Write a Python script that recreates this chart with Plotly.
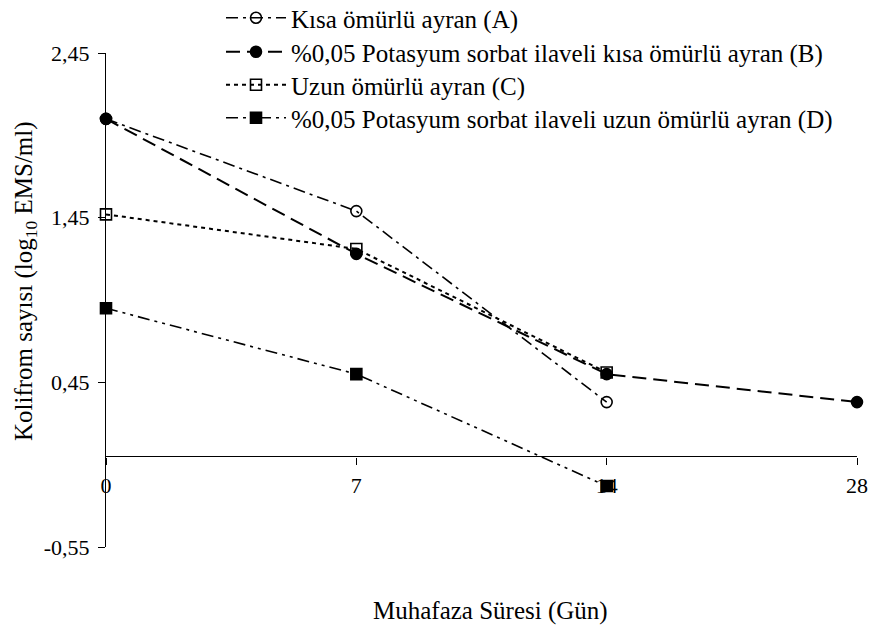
import plotly.graph_objects as go

days = ["0", "7", "14", "28"]
series_names = [
    "Kısa ömürlü ayran (A)",
    "%0,05 Potasyum sorbat ilaveli kısa ömürlü ayran (B)",
    "Uzun ömürlü ayran (C)",
    "%0,05 Potasyum sorbat ilaveli uzun ömürlü ayran (D)",
]
vals_A = [2.05, 1.49, 0.33, None]
vals_B = [2.05, 1.23, 0.50, 0.33]
vals_C = [1.47, 1.26, 0.51, None]
vals_D = [0.90, 0.50, -0.18, None]
y_ticks = [-0.55, 0.45, 1.45, 2.45]
y_tick_labels = [f"{v:.2f}".replace(".", ",") for v in y_ticks]
y_min, y_max = -0.55, 2.45

FONT = "Liberation Serif, Times New Roman, serif"
FS = 22
FS_LEG = 25
FS_TITLE = 25

# plot area in page pixels: x 106..857, y 53..547 (body margin removed)
PL, PR, PT, PB = 106, 857, 53, 547
W, H = 872, 629
PW, PH = PR - PL, PB - PT

styles = [
    dict(dash="12px,5px,3px,5px", symbol="circle-open", width=1.6),
    dict(dash="14px,7px", symbol="circle", width=2),
    dict(dash="4px,4px", symbol="square-open", width=2),
    dict(dash="12px,5px,3px,5px,3px,5px", symbol="square", width=1.6),
]
all_vals = [vals_A, vals_B, vals_C, vals_D]
legend_ids = ["legend", "legend2", "legend3", "legend4"]
legend_rows = [18, 52, 85, 118]


def px_x(x):
    return (x - PL) / PW


def px_y(y):
    return (PB - y) / PH


fig = go.Figure()
for i, (name, vals, st) in enumerate(zip(series_names, all_vals, styles)):
    xs = [d for d, v in zip(days, vals) if v is not None]
    ys = [v for v in vals if v is not None]
    fig.add_trace(go.Scatter(
        x=xs, y=ys, name=name, mode="lines+markers",
        line=dict(color="black", width=st["width"], dash=st["dash"]),
        marker=dict(symbol=st["symbol"], size=11, color="black",
                    line=dict(color="black", width=1.6)),
        cliponaxis=False, legend=legend_ids[i],
    ))

zero_pos = (0 - y_min) / (y_max - y_min)

legend_layout = {}
for lid, row in zip(legend_ids, legend_rows):
    legend_layout[lid] = dict(
        x=px_x(221), y=px_y(row), xanchor="left", yanchor="middle",
        bgcolor="rgba(0,0,0,0)", font=dict(family=FONT, size=FS_LEG),
        itemwidth=60)

fig.update_layout(
    width=W, height=H,
    margin=dict(l=PL, r=W - PR, t=PT, b=H - PB, autoexpand=False),
    paper_bgcolor="white", plot_bgcolor="white",
    font=dict(family=FONT, size=FS, color="black"),
    showlegend=True,
    **legend_layout,
    xaxis=dict(type="category", categoryorder="array", categoryarray=days,
               range=[0, 3], anchor="free", position=zero_pos,
               showline=True, linecolor="black", linewidth=1.2,
               ticks="outside", ticklen=7, tickcolor="black",
               showgrid=False, zeroline=False, ticklabelstandoff=2,
               layer="below traces", automargin=False),
    yaxis=dict(range=[y_min, y_max], tickvals=y_ticks, ticktext=y_tick_labels,
               showline=True, linecolor="black", linewidth=1.2,
               ticks="outside", ticklen=7, tickcolor="black",
               showgrid=False, zeroline=False, ticklabelstandoff=4,
               automargin=False),
    annotations=[
        dict(text="Kolifrom sayısı (log<sub>10</sub> EMS/ml)", textangle=-90,
             xref="paper", yref="paper", x=px_x(25), y=px_y(281),
             showarrow=False, xanchor="center", yanchor="middle",
             font=dict(family=FONT, size=FS_TITLE)),
        dict(text="Muhafaza Süresi (Gün)",
             xref="paper", yref="paper", x=px_x(490), y=px_y(611),
             showarrow=False, xanchor="center", yanchor="middle",
             font=dict(family=FONT, size=FS_TITLE)),
    ],
)

fig.write_html("out.html", config={"displayModeBar": False},
               post_script="document.body.style.margin='0px';")
